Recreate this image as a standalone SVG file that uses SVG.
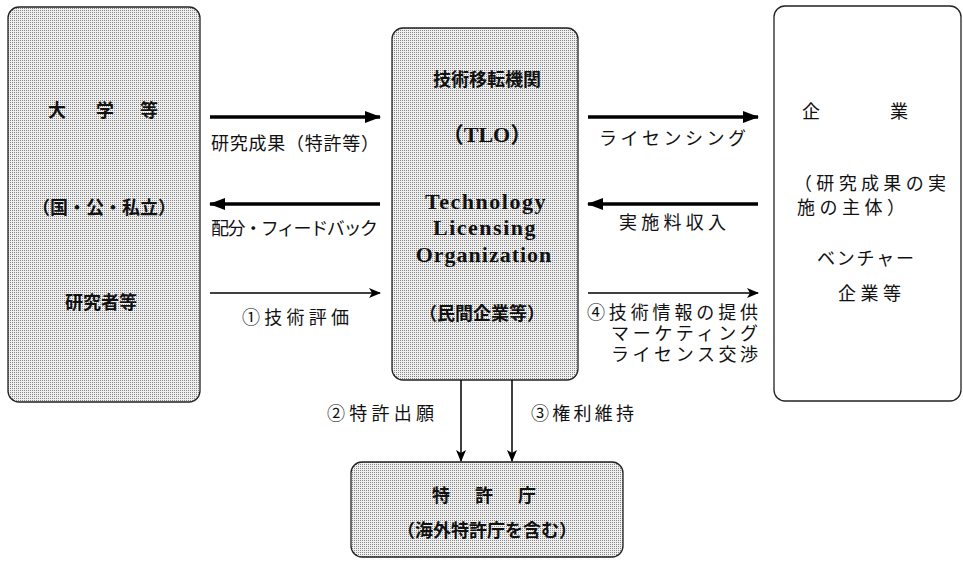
<svg xmlns="http://www.w3.org/2000/svg" width="963" height="561" viewBox="0 0 963 561">
<defs>
<pattern id="dots" width="2" height="2" patternUnits="userSpaceOnUse">
<rect width="2" height="2" fill="#f0f0f0"/>
<rect width="1" height="1" fill="#858585"/>
</pattern>
<marker id="ah" viewBox="0 0 16 12" refX="15" refY="6" markerWidth="16" markerHeight="12" markerUnits="userSpaceOnUse" orient="auto">
<path d="M0,0 L16,6 L0,12 Z" fill="#000"/>
</marker>
<marker id="ahs" viewBox="0 0 12 10" refX="11" refY="5" markerWidth="12" markerHeight="10" markerUnits="userSpaceOnUse" orient="auto">
<path d="M0,0 L12,5 L0,10 L3,5 Z" fill="#000"/>
</marker>
</defs>
<style>
.box{stroke:#222;stroke-width:1.3}
.sh{fill:url(#dots)}
.wh{fill:#fff}
text{font-family:"Noto Sans CJK JP","Liberation Serif",serif;font-size:18px;fill:#111}
.b{font-weight:bold}
.ser{font-family:"Liberation Serif","Noto Sans CJK JP",serif;font-weight:bold;font-size:22px}
.c{text-anchor:middle}
.thick{stroke:#000;stroke-width:3.5;fill:none}
.thin{stroke:#000;stroke-width:1.5;fill:none}
</style>
<g id="univ">
<rect class="box sh" x="8" y="7" width="192" height="395" rx="11"/>
<text class="c b" x="57" y="117">大</text>
<text class="c b" x="105" y="117">学</text>
<text class="c b" x="149" y="117">等</text>
<text class="c b" x="104" y="214">（国・公・私立）</text>
<text class="c b" x="101" y="309" font-size="19">研究者等</text>
</g>
<g id="tlo">
<rect class="box sh" x="392" y="28" width="186" height="352" rx="11"/>
<text class="c b" x="487" y="86" font-size="21">技術移転機関</text>
<text class="c ser" x="487" y="142">（TLO）</text>
<text class="c ser" x="486" y="209" letter-spacing="1.5">Technology</text>
<text class="c ser" x="485" y="235" letter-spacing="1.5">Licensing</text>
<text class="c ser" x="484" y="262" letter-spacing="1">Organization</text>
<text class="c b" x="482" y="320" font-size="19">（民間企業等）</text>
</g>
<g id="company">
<rect class="box wh" x="774" y="6" width="187" height="395" rx="11"/>
<text class="c" x="811" y="118">企</text>
<text class="c" x="899" y="118">業</text>
<text x="794" y="190" textLength="152">（研究成果の実</text>
<text x="797" y="214" textLength="108">施の主体）</text>
<text x="817" y="265" textLength="97">ベンチャー</text>
<text x="838" y="300" textLength="63">企業等</text>
</g>
<g id="jpo">
<rect class="box sh" x="351" y="462" width="272" height="95" rx="11"/>
<text class="c b" x="441" y="502">特</text>
<text class="c b" x="484" y="502">許</text>
<text class="c b" x="527" y="502">庁</text>
<text class="c b" x="487" y="537" font-size="19">（海外特許庁を含む）</text>
</g>
<g id="connectors">
<line class="thick" x1="210" y1="117" x2="380" y2="117" marker-end="url(#ah)"/>
<line class="thick" x1="380" y1="204" x2="210" y2="204" marker-end="url(#ah)"/>
<line class="thin" x1="210" y1="293" x2="380" y2="293" marker-end="url(#ahs)"/>
<line class="thick" x1="588" y1="117" x2="758" y2="117" marker-end="url(#ah)"/>
<line class="thick" x1="758" y1="204" x2="588" y2="204" marker-end="url(#ah)"/>
<line class="thin" x1="588" y1="293" x2="758" y2="293" marker-end="url(#ahs)"/>
<line class="thin" x1="461" y1="380" x2="461" y2="461" marker-end="url(#ahs)"/>
<line class="thin" x1="512" y1="380" x2="512" y2="461" marker-end="url(#ahs)"/>
<text x="211" y="150" textLength="168">研究成果（特許等）</text>
<text x="211" y="235" font-size="16.5" textLength="167">配分・フィードバック</text>
<text x="242" y="324" textLength="107">①技術評価</text>
<text x="599" y="145" font-size="17" textLength="147">ライセンシング</text>
<text x="619" y="229" font-size="19" textLength="107">実施料収入</text>
<text x="587" y="319" font-size="16.5" textLength="171">④技術情報の提供</text>
<text x="611" y="340" font-size="16.5" textLength="147">マーケティング</text>
<text x="611" y="361" font-size="16.5" textLength="147">ライセンス交渉</text>
<text x="327" y="420" textLength="107">②特許出願</text>
<text x="531" y="420" textLength="103">③権利維持</text>
</g>
</svg>
